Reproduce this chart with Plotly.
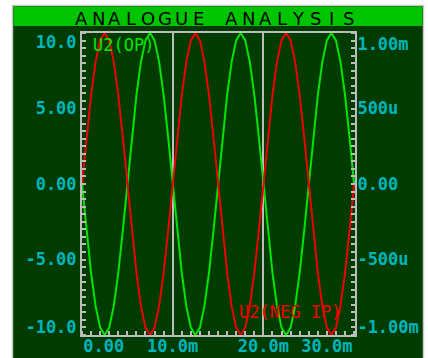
import plotly.graph_objects as go

# time base (ms)
time_ms = [0.0, 0.5, 1.0, 1.5, 2.0, 2.5, 3.0, 3.5, 4.0, 4.5,
           5.0, 5.5, 6.0, 6.5, 7.0, 7.5, 8.0, 8.5, 9.0, 9.5,
           10.0, 10.5, 11.0, 11.5, 12.0, 12.5, 13.0, 13.5, 14.0, 14.5,
           15.0, 15.5, 16.0, 16.5, 17.0, 17.5, 18.0, 18.5, 19.0, 19.5,
           20.0, 20.5, 21.0, 21.5, 22.0, 22.5, 23.0, 23.5, 24.0, 24.5,
           25.0, 25.5, 26.0, 26.5, 27.0, 27.5, 28.0, 28.5, 29.0, 29.5,
           30.0]

# U2(OP) in volts (left axis)
u2_op = [0.0, -3.09, -5.88, -8.09, -9.51, -10.0, -9.51, -8.09, -5.88, -3.09,
         0.0, 3.09, 5.88, 8.09, 9.51, 10.0, 9.51, 8.09, 5.88, 3.09,
         0.0, -3.09, -5.88, -8.09, -9.51, -10.0, -9.51, -8.09, -5.88, -3.09,
         0.0, 3.09, 5.88, 8.09, 9.51, 10.0, 9.51, 8.09, 5.88, 3.09,
         0.0, -3.09, -5.88, -8.09, -9.51, -10.0, -9.51, -8.09, -5.88, -3.09,
         0.0, 3.09, 5.88, 8.09, 9.51, 10.0, 9.51, 8.09, 5.88, 3.09,
         0.0]

# U2(NEG IP) in millivolts (right axis)
u2_neg_ip = [0.0, 0.309, 0.588, 0.809, 0.951, 1.0, 0.951, 0.809, 0.588, 0.309,
             0.0, -0.309, -0.588, -0.809, -0.951, -1.0, -0.951, -0.809, -0.588, -0.309,
             0.0, 0.309, 0.588, 0.809, 0.951, 1.0, 0.951, 0.809, 0.588, 0.309,
             0.0, -0.309, -0.588, -0.809, -0.951, -1.0, -0.951, -0.809, -0.588, -0.309,
             0.0, 0.309, 0.588, 0.809, 0.951, 1.0, 0.951, 0.809, 0.588, 0.309,
             0.0, -0.309, -0.588, -0.809, -0.951, -1.0, -0.951, -0.809, -0.588, -0.309,
             0.0]

x_labels = ["0.00", "10.0m", "20.0m", "30.0m"]
left_labels = ["10.0", "5.00", "0.00", "-5.00", "-10.0"]
right_labels = ["1.00m", "500u", "0.00", "-500u", "-1.00m"]
title = "ANALOGUE ANALYSIS"

W, H = 428, 358
L, R, T, B = 82, 73, 33, 23
PW, PH = W - L - R, H - T - B


def px_x(p):
    return (p - L) / PW


def px_y(p):
    return (H - B - p) / PH


BG = "#003c00"
GRID = "#bcbcbc"
CYAN = "#00b4bc"
GREEN = "#00e400"
RED = "#f00000"
MONO = "DejaVu Sans Mono"

fig = go.Figure()
fig.add_trace(go.Scatter(x=time_ms, y=u2_op, mode="lines", name="U2(OP)",
                         line=dict(color=GREEN, width=2), xaxis="x", yaxis="y"))
fig.add_trace(go.Scatter(x=time_ms, y=u2_neg_ip, mode="lines", name="U2(NEG IP)",
                         line=dict(color=RED, width=2), xaxis="x2", yaxis="y2"))

tick_font = dict(family=MONO, size=17, color=CYAN, weight="bold")
minor_style = dict(ticks="inside", ticklen=4, tickwidth=2, tickcolor=GRID, showgrid=False)

fig.update_layout(
    width=W, height=H, showlegend=False,
    margin=dict(l=L, r=R, t=T, b=B),
    paper_bgcolor="white", plot_bgcolor=BG,
    xaxis=dict(range=[0, 30.1], tickvals=[2.4, 10, 20, 27.0], ticktext=x_labels,
               tickfont=tick_font, showgrid=False, zeroline=False, ticks="",
               ticklabelstandoff=-5,
               showline=True, linecolor=GRID, linewidth=2, automargin=False,
               minor=dict(dtick=1, tick0=0, **minor_style)),
    xaxis2=dict(range=[0, 30.1], overlaying="x", matches="x", side="top",
                tickvals=[10, 20], showticklabels=False, ticks="", automargin=False,
                showgrid=True, gridcolor=GRID, gridwidth=2, zeroline=False,
                showline=True, linecolor=GRID, linewidth=2),
    yaxis=dict(range=[-10, 10], tickvals=[9.4, 5, 0, -5, -9.5], ticktext=left_labels,
               tickfont=tick_font, showgrid=False, zeroline=False, ticks="",
               showline=True, linecolor=GRID, linewidth=2, automargin=False,
               minor=dict(dtick=0.5, tick0=0, **minor_style)),
    yaxis2=dict(range=[-1, 1], overlaying="y", side="right", anchor="x",
                tickvals=[0.93, 0.5, 0, -0.5, -0.95], ticktext=right_labels,
                tickfont=tick_font, showgrid=False, zeroline=False, ticks="",
                ticklabelstandoff=-3,
                showline=True, linecolor=GRID, linewidth=2, automargin=False,
                minor=dict(dtick=0.05, tick0=0, **minor_style)),
    yaxis3=dict(range=[-10, 10], overlaying="y", tickvals=[-5, 0, 5],
                showticklabels=False, ticks="", showgrid=True, gridcolor=GRID,
                gridwidth=2, zeroline=False, showline=False, automargin=False),
)

# panel and title bar
fig.add_shape(type="rect", xref="paper", yref="paper",
              x0=px_x(12.5), x1=px_x(423.5), y0=px_y(362), y1=px_y(5.5),
              fillcolor=BG, line=dict(color="#c8c8c8", width=1.5), layer="below")
fig.add_shape(type="rect", xref="paper", yref="paper",
              x0=px_x(13.5), x1=px_x(422.5), y0=px_y(26), y1=px_y(6.5),
              fillcolor="#00c400", line=dict(width=0), layer="below")

for i, ch in enumerate(title):
    if ch == " ":
        continue
    fig.add_annotation(text=ch, xref="paper", yref="paper",
                       x=px_x(73 + 16.7 * (i + 0.5)), y=px_y(18),
                       showarrow=False, xanchor="center", yanchor="middle",
                       font=dict(family="DejaVu Sans", size=18, color="black"))

fig.add_annotation(text="U2(OP)", xref="paper", yref="paper",
                   x=px_x(91), y=px_y(33), xanchor="left", yanchor="top",
                   showarrow=False, font=dict(family=MONO, size=17, color=GREEN))
fig.add_annotation(text="U2(NEG IP)", xref="paper", yref="paper",
                   x=px_x(343), y=px_y(324), xanchor="right", yanchor="bottom",
                   showarrow=False, font=dict(family=MONO, size=17, color=RED))

fig.write_html("out.html", config={"displayModeBar": False},
               post_script="document.body.style.margin='0px';")
